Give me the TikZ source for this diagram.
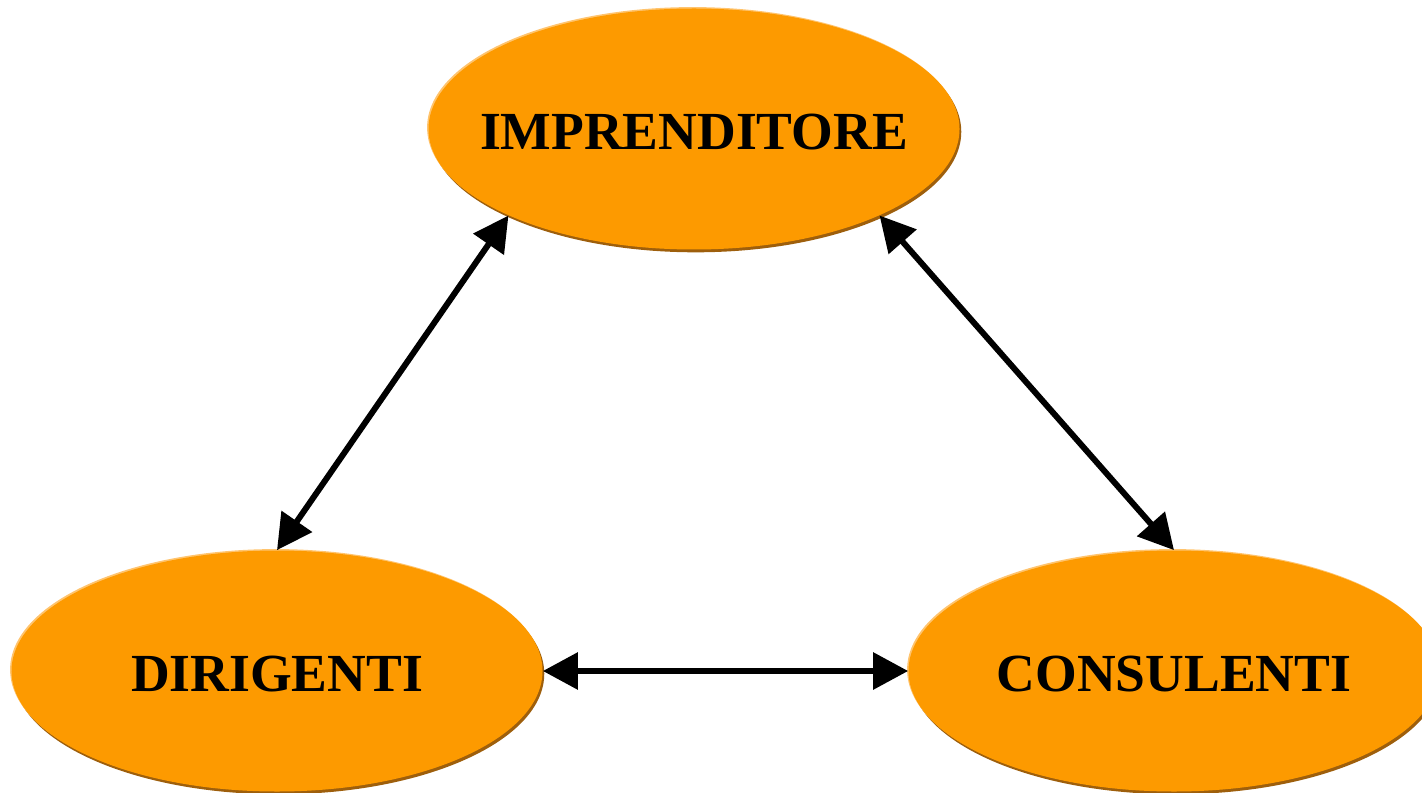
\documentclass[tikz,border=0pt]{standalone}
\usepackage{fontspec}
\setmainfont{Liberation Serif}
\usetikzlibrary{shapes.geometric}
\usetikzlibrary{arrows.meta}
\usetikzlibrary{shadows}
\definecolor{arancio}{HTML}{FD9A00}
\definecolor{arancioscuro}{HTML}{9E5F0C}
\definecolor{aranciochiaro}{HTML}{FFC46E}
\tikzset{ruolo/.style={ellipse,fill=arancio,inner sep=0pt,minimum width=10.62cm,minimum height=4.82cm,
    general shadow={fill=arancioscuro,shadow xshift=1pt,shadow yshift=-1.6pt},
    general shadow={fill=aranciochiaro,shadow xshift=-0.8pt,shadow yshift=0.8pt}},
    etichetta/.style={font=\fontsize{30.5}{36}\selectfont\bfseries,yshift=-0.06cm},
    freccia/.style={line width=3.4pt,{Triangle[length=0.7cm,width=0.72cm]}-{Triangle[length=0.7cm,width=0.72cm]}}}
\begin{document}
\begin{tikzpicture}
    \useasboundingbox (0,0) rectangle (28.44,15.84);
    \node[ruolo,label={[etichetta]center:IMPRENDITORE}] (imp) at (13.88,13.26) {};
    \node[ruolo,label={[etichetta]center:DIRIGENTI}] (dir) at (5.54,2.42) {};
    \node[ruolo,label={[etichetta]center:CONSULENTI}] (cons) at (23.48,2.42) {};
    % frecce tra i ruoli
    \draw[freccia] (imp.205) -- (dir.north);
    \draw[freccia] (imp.335) -- (cons.north);
    \draw[freccia] (dir.east) -- (cons.west);
\end{tikzpicture}
\end{document}
